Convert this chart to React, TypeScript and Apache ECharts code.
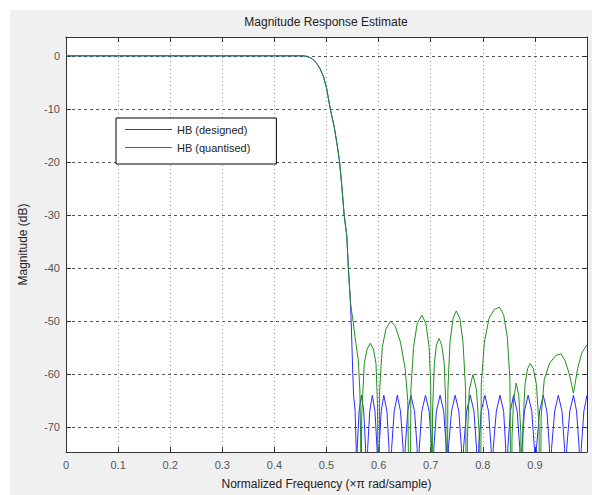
import React, { useEffect, useRef } from "react";
import * as echarts from "echarts";

const titleText = "Magnitude Response Estimate";
const xName = "Normalized Frequency (\u00d7\u03c0 rad/sample)";
const yName = "Magnitude (dB)";
const legendNames = ["HB (designed)", "HB (quantised)"];
const yTicks = [0, -10, -20, -30, -40, -50, -60, -70];

// Passband and transition band (both filters overlap here) [freq, dB]
const passband: [number, number][] = [
  [0, 0], [0.1, 0], [0.2, 0], [0.3, 0], [0.4, 0], [0.455, 0],
  [0.462, -0.1], [0.472, -0.5], [0.481, -1.4], [0.488, -2.5], [0.494, -3.9],
  [0.5, -6.0], [0.507, -9.9], [0.515, -13.5], [0.52, -16.5], [0.525, -19.9],
  [0.529, -24.1], [0.534, -30.1], [0.539, -34.0], [0.542, -40.1], [0.546, -46.5],
];

// Designed filter stopband (equiripple at about -64 dB)
const designedStop: [number, number][] = [
  [0.548, -52], [0.5505, -60], [0.552, -64], [0.555, -67], [0.557, -74], [0.558, -100],
  [0.559, -74], [0.5625, -67], [0.567, -64], [0.5715, -67], [0.575, -74], [0.577, -100],
  [0.579, -74], [0.583, -67], [0.588, -64], [0.593, -67], [0.597, -74], [0.599, -100],
  [0.601, -74], [0.605, -67], [0.61, -64], [0.616, -67], [0.62, -74], [0.623, -100],
  [0.625, -74], [0.63, -67], [0.636, -64], [0.642, -67], [0.647, -74], [0.649, -100],
  [0.651, -74], [0.656, -67], [0.662, -64], [0.669, -67], [0.674, -74], [0.676, -100],
  [0.678, -74], [0.683, -67], [0.69, -64], [0.697, -67], [0.702, -74], [0.704, -100],
  [0.706, -74], [0.711, -67], [0.718, -64], [0.725, -67], [0.73, -74], [0.732, -100],
  [0.734, -74], [0.74, -67], [0.747, -64], [0.754, -67], [0.759, -74], [0.761, -100],
  [0.763, -74], [0.769, -67], [0.776, -64], [0.783, -67], [0.788, -74], [0.79, -100],
  [0.792, -74], [0.797, -67], [0.804, -64], [0.811, -67], [0.816, -74], [0.818, -100],
  [0.82, -74], [0.826, -67], [0.833, -64], [0.84, -67], [0.844, -74], [0.846, -100],
  [0.848, -74], [0.853, -67], [0.859, -64], [0.866, -67], [0.871, -74], [0.873, -100],
  [0.875, -74], [0.88, -67], [0.887, -64], [0.894, -67], [0.899, -74], [0.901, -100],
  [0.903, -74], [0.909, -67], [0.916, -64], [0.923, -67], [0.928, -74], [0.93, -100],
  [0.932, -74], [0.938, -67], [0.945, -64], [0.952, -67], [0.957, -74], [0.959, -100],
  [0.961, -74], [0.967, -67], [0.974, -64], [0.98, -67], [0.985, -74], [0.987, -100],
  [0.989, -74], [0.994, -67], [1.0, -64],
];

// Quantised filter stopband (higher, irregular sidelobes)
const quantisedStop: [number, number][] = [
  [0.548, -48], [0.551, -50], [0.556, -54], [0.561, -57.3], [0.564, -63], [0.5655, -72], [0.566, -100],
  [0.5675, -68], [0.5725, -58], [0.578, -55.3], [0.584, -54.2], [0.59, -55.3], [0.595, -58], [0.598, -66], [0.6, -100],
  [0.602, -63], [0.607, -55], [0.614, -51.5], [0.623, -50], [0.632, -51], [0.642, -54], [0.651, -59], [0.656, -65], [0.66, -100],
  [0.662, -63], [0.667, -55], [0.674, -50.5], [0.683, -48.9], [0.691, -50.5], [0.697, -55], [0.7, -62], [0.702, -100],
  [0.7035, -67], [0.707, -58], [0.711, -54.5], [0.716, -53.3], [0.721, -54.5], [0.726, -58], [0.729, -66], [0.731, -100],
  [0.733, -63], [0.737, -54], [0.743, -49.5], [0.749, -48.1], [0.756, -49.5], [0.762, -54], [0.767, -63], [0.769, -100],
  [0.7705, -72], [0.774, -63], [0.781, -60.1], [0.788, -63], [0.793, -71], [0.795, -100],
  [0.797, -62], [0.803, -54], [0.812, -49.5], [0.822, -47.8], [0.832, -47.4], [0.84, -48.8], [0.847, -53], [0.852, -61], [0.855, -100],
  [0.856, -72], [0.859, -65], [0.864, -61.7], [0.869, -64], [0.873, -71], [0.875, -100],
  [0.877, -70], [0.881, -62], [0.886, -59], [0.891, -58], [0.897, -59], [0.903, -62], [0.908, -70], [0.91, -100],
  [0.912, -68], [0.918, -61], [0.928, -58], [0.94, -56.5], [0.95, -56.2], [0.958, -57.5], [0.966, -60], [0.974, -63.6],
  [0.982, -59], [0.99, -56], [1.0, -54.5],
];

export default function App() {
  const ref = useRef<HTMLDivElement>(null);
  useEffect(() => {
    if (!ref.current) return;
    const chart = echarts.init(ref.current, null, { renderer: "svg" });
    const font = "'Liberation Sans', Arial, Helvetica, sans-serif";
    const boxColor = "#333";
    const blue = "#2b2bff";
    const green = "#1f8f1f";
    const colors = [blue, green];
    const designed = [...passband, ...designedStop];
    const quantised = [...passband, ...quantisedStop];
    chart.setOption({
      animation: false,
      backgroundColor: "#fff",
      graphic: [
        {
          type: "rect",
          z: -100,
          shape: { x: 10, y: 10, width: 582, height: 485 },
          style: { fill: "#f0f0f0" },
          silent: true,
        },
      ],
      title: {
        text: titleText,
        left: 326,
        top: 16,
        textAlign: "center",
        padding: 0,
        textStyle: { fontSize: 12, fontWeight: "normal", color: "#222", fontFamily: font },
      },
      legend: {
        show: true,
        left: 116,
        top: 118,
        orient: "vertical",
        data: legendNames.map((name, i) => ({
          name,
          icon: "path://M0,0H47V1H0Z",
          itemStyle: { color: colors[i], borderWidth: 0 },
          lineStyle: { color: colors[i], width: 0 },
        })),
        backgroundColor: "#fff",
        borderColor: "#000",
        borderWidth: 1,
        borderRadius: 0,
        padding: [6, 26, 11, 9],
        itemWidth: 47,
        itemHeight: 14,
        itemGap: 7,
        selectedMode: false,
        textStyle: { fontSize: 11, color: "#222", fontFamily: font },
      },
      grid: {
        left: 66,
        right: 5,
        top: 37,
        bottom: 39,
        show: true,
        backgroundColor: "#fff",
        borderWidth: 0,
      },
      xAxis: [
        {
          type: "value",
          min: 0,
          max: 1,
          interval: 0.1,
          position: "bottom",
          axisLine: { show: true, onZero: false, lineStyle: { color: boxColor, width: 1 } },
          axisTick: { show: true, inside: true, length: 5, lineStyle: { color: boxColor } },
          axisLabel: { color: "#555", fontSize: 11, margin: 7, showMaxLabel: false, fontFamily: font },
          splitLine: { show: true, lineStyle: { color: "#999", type: [1, 3], width: 1 } },
          name: xName,
          nameLocation: "middle",
          nameGap: 26,
          nameTextStyle: { fontSize: 12, color: "#222", fontFamily: font },
        },
        {
          type: "value",
          min: 0,
          max: 1,
          interval: 0.1,
          position: "top",
          axisLine: { show: true, onZero: false, lineStyle: { color: boxColor, width: 1 } },
          axisTick: { show: true, inside: true, length: 5, lineStyle: { color: boxColor } },
          axisLabel: { show: false },
          splitLine: { show: false },
        },
      ],
      yAxis: [
        {
          type: "value",
          min: -74.7,
          max: 3.55,
          position: "left",
          axisLine: { show: true, onZero: false, lineStyle: { color: boxColor, width: 1 } },
          axisTick: { show: true, inside: true, length: 5, customValues: yTicks, lineStyle: { color: boxColor } },
          axisLabel: { customValues: yTicks, color: "#555", fontSize: 11, margin: 6, fontFamily: font },
          splitLine: { show: true, lineStyle: { color: "#555", type: [3, 3], width: 1 } },
          name: yName,
          nameLocation: "middle",
          nameGap: 37,
          nameRotate: 90,
          nameTextStyle: { fontSize: 12, color: "#222", fontFamily: font },
        },
        {
          type: "value",
          min: -74.7,
          max: 3.55,
          position: "right",
          axisLine: { show: true, onZero: false, lineStyle: { color: boxColor, width: 1 } },
          axisTick: { show: true, inside: true, length: 5, customValues: yTicks, lineStyle: { color: boxColor } },
          axisLabel: { show: false },
          splitLine: { show: false },
        },
      ],
      series: [
        {
          type: "line",
          name: legendNames[0],
          xAxisIndex: 0,
          yAxisIndex: 0,
          data: designed,
          symbol: "none",
          showSymbol: false,
          clip: true,
          lineStyle: { color: blue, width: 1 },
          itemStyle: { color: blue },
          z: 3,
        },
        {
          type: "line",
          name: legendNames[1],
          xAxisIndex: 0,
          yAxisIndex: 0,
          data: quantised,
          symbol: "none",
          showSymbol: false,
          clip: true,
          lineStyle: { color: green, width: 1 },
          itemStyle: { color: green },
          z: 4,
        },
      ],
    });
    return () => chart.dispose();
  }, []);
  return (
    <div
      ref={ref}
      style={{ position: "fixed", left: 0, top: 0, width: 592, height: 495, background: "#fff" }}
    />
  );
}
